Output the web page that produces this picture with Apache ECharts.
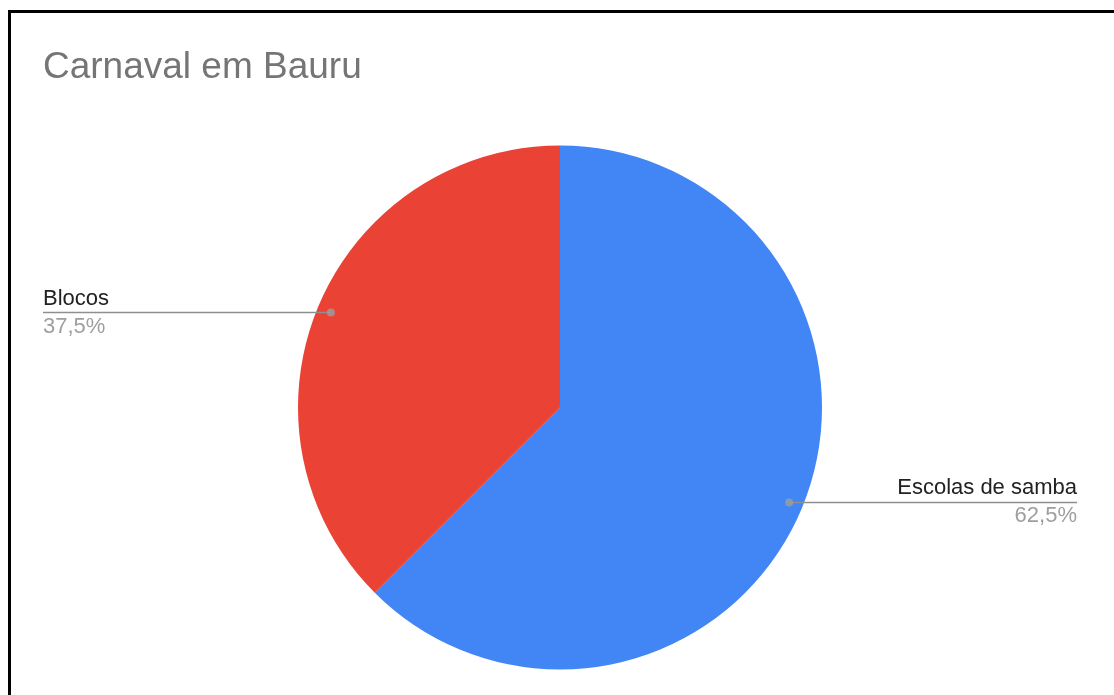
<!DOCTYPE html>
<html>
<head>
<meta charset="utf-8">
<script src="https://cdn.jsdelivr.net/npm/echarts@6/dist/echarts.min.js"></script>
<style>
html,body{margin:0;padding:0;background:#fff;}
#chart{width:1114px;height:695px;}
</style>
</head>
<body>
<div id="chart"></div>
<script>
const titleText = 'Carnaval em Bauru';
const categories = ['Escolas de samba', 'Blocos'];
const values = [62.5, 37.5];
const colors = ['#4285F4', '#EA4335'];

const FONT = '"Liberation Sans", Arial, Helvetica, sans-serif';
const CX = 560, CY = 407.5, R = 262, R_LABEL = 248;
const LEFT_X = 43, RIGHT_X = 1077;

const chart = echarts.init(document.getElementById('chart'), null, {renderer: 'canvas'});
const dataItems = categories.map((c, i) => ({name: c, value: values[i], itemStyle: {color: colors[i]}}));

// anchor dots: mid-angle of each slice on the angle axis (0..total), at label radius
const total = values.reduce((a, b) => a + b, 0);
let acc = 0;
const dotData = values.map(v => { const mid = acc + v / 2; acc += v; return [R_LABEL, mid]; });

function fmtPct(p) {
  return p.toFixed(1).replace('.', ',') + '%';
}

const option = {
  animation: false,
  backgroundColor: '#ffffff',
  title: {
    text: titleText,
    left: 38,
    top: 44,
    textStyle: {fontFamily: FONT, fontSize: 37, fontWeight: 'normal', color: '#757575'}
  },
  graphic: [{
    type: 'rect',
    shape: {x: 9.5, y: 11.5, width: 1300, height: 900},
    style: {fill: 'none', stroke: '#000', lineWidth: 3},
    silent: true,
    z: 100
  }],
  polar: {center: [CX, CY], radius: R},
  angleAxis: {type: 'value', min: 0, max: total, startAngle: 90, clockwise: true, show: false},
  radiusAxis: {type: 'value', min: 0, max: R, show: false},
  series: [
    {
      type: 'pie',
      center: [CX, CY],
      radius: R,
      startAngle: 90,
      clockwise: true,
      silent: true,
      label: {show: false},
      labelLine: {show: false},
      itemStyle: {borderWidth: 0},
      data: dataItems
    },
    {
      type: 'pie',
      center: [CX, CY],
      radius: R_LABEL,
      startAngle: 90,
      clockwise: true,
      silent: true,
      z: 3,
      itemStyle: {color: 'rgba(0,0,0,0)', borderWidth: 0},
      label: {
        show: true,
        position: 'outside',
        alignTo: 'none',
        formatter: function (p) { return '{n|' + p.name + '}\n{p|' + fmtPct(p.percent) + '}'; },
        rich: {
          n: {fontFamily: FONT, fontSize: 22, color: '#222222', lineHeight: 28},
          p: {fontFamily: FONT, fontSize: 22, color: '#9e9e9e', lineHeight: 28}
        }
      },
      labelLine: {
        show: true,
        length: 0,
        length2: 10,
        lineStyle: {color: '#8f8f8f', width: 1.5}
      },
      labelLayout: function (params) {
        const pts = params.labelLinePoints;
        if (!pts || !pts.length) return {};
        const start = pts[0];
        const isLeft = start[0] < CX;
        const endX = isLeft ? LEFT_X : RIGHT_X;
        return {
          x: endX,
          y: start[1],
          align: isLeft ? 'left' : 'right',
          verticalAlign: 'middle',
          labelLinePoints: [[start[0], start[1]], [start[0], start[1]], [endX, start[1]]]
        };
      },
      data: dataItems.map(d => ({name: d.name, value: d.value}))
    },
    {
      type: 'scatter',
      coordinateSystem: 'polar',
      symbol: 'circle',
      symbolSize: 8,
      silent: true,
      z: 5,
      itemStyle: {color: '#9e9e9e'},
      data: dotData
    }
  ]
};

chart.setOption(option);
</script>
</body>
</html>
